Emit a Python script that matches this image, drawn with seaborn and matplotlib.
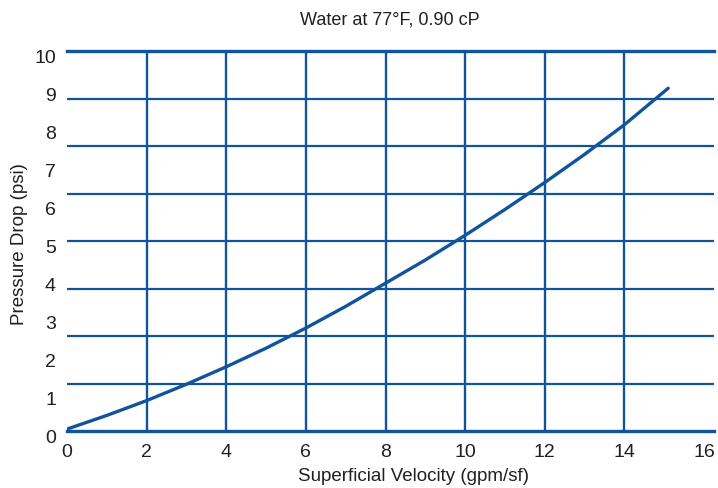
import numpy as np
import matplotlib
matplotlib.use('Agg')
import matplotlib.pyplot as plt
import matplotlib.transforms as mtransforms
import seaborn as sns

# curve
velocity = [0, 1, 2, 3, 4, 5, 6, 7, 8, 9, 10, 11, 12, 13, 14, 15.1]
pressure = [0.05, 0.41, 0.80, 1.23, 1.69, 2.18, 2.71, 3.28, 3.89, 4.50, 5.15, 5.83, 6.54, 7.28, 8.06, 9.02]

x_ticks = [0, 2, 4, 6, 8, 10, 12, 14, 16]
y_ticks = [0, 1, 2, 3, 4, 5, 6, 7, 8, 9, 10]

title = 'Water at 77°F, 0.90 cP'
x_label = 'Superficial Velocity (gpm/sf)'
y_label = 'Pressure Drop (psi)'

blue = '#12549c'
ink = '#231f20'

sns.set_theme(style='white')
plt.rcParams['font.family'] = ['Liberation Sans', 'DejaVu Sans']

fig = plt.figure(figsize=(7.18, 4.89), dpi=100)
ax = fig.add_axes([67 / 718, 1 - 432 / 489, (714 - 67) / 718, (432 - 52) / 489])

sns.lineplot(x=velocity, y=pressure, ax=ax, color=blue, linewidth=2.4, zorder=5)

ax.set_xlim(0, 16.25)
ax.set_ylim(0, 10)

# grid: vertical at every 2, horizontal every 1.25 (as drawn in the original)
for gx in x_ticks[1:-1]:
    ax.axvline(gx, color=blue, linewidth=1.7, zorder=2)
for gy in np.arange(1.25, 10, 1.25):
    ax.axhline(gy, color=blue, linewidth=1.6, zorder=2)

for side in ['left', 'right']:
    ax.spines[side].set_visible(False)
for side in ['top', 'bottom']:
    ax.spines[side].set_color(blue)
    ax.spines[side].set_linewidth(2.4)

ax.set_xticks(x_ticks)
ax.set_yticks(y_ticks)
ax.tick_params(axis='both', length=0, labelsize=14, labelcolor=ink)
ax.tick_params(axis='x', pad=9)
ax.tick_params(axis='y', pad=8)

# y labels sit a little under their lines
shift = mtransforms.ScaledTranslation(0, -4.5 / 100, fig.dpi_scale_trans)
for lab in ax.get_yticklabels():
    lab.set_transform(lab.get_transform() + shift)

ax.set_xlabel('')
ax.set_ylabel('')

fig.text(390 / 718, 1 - 20 / 489, title, ha='center', va='center', fontsize=13, color=ink)
fig.text(414 / 718, 1 - 477 / 489, x_label, ha='center', va='center', fontsize=13.5, color=ink)
fig.text(20 / 718, 1 - 244 / 489, y_label, ha='center', va='center', rotation=90, fontsize=13.5, color=ink)

fig.savefig('out.png', dpi=100)
